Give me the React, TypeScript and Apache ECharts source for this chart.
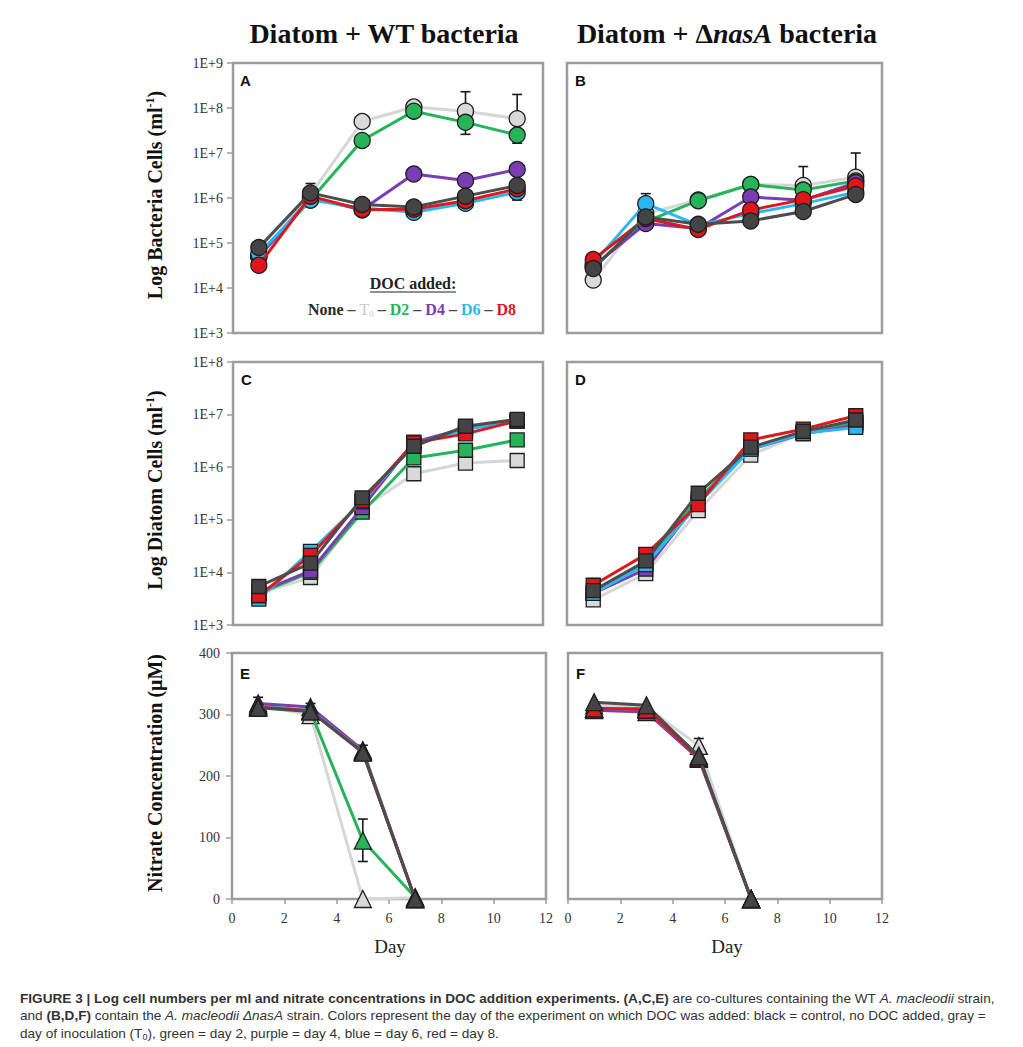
import React, { useEffect, useRef } from "react";
import * as echarts from "echarts";

// ---------- DATA ----------
const daysAll = [1, 3, 5, 7, 9, 11];
const daysNit = [1, 3, 5, 7];
const yTicksNitrate = [0, 100, 200, 300, 400];
const xTicksDay = [0, 2, 4, 6, 8, 10, 12];

// Panel A: WT bacteria cells (ml-1)
const aNone = [7.9e4, 1.3e6, 7.2e5, 6.3e5, 1.1e6, 1.9e6];
const aT0 = [5.0e4, 1.2e6, 5.0e7, 1.05e8, 8.5e7, 5.8e7];
const aD2 = [5.0e4, 9.0e5, 1.9e7, 8.5e7, 4.8e7, 2.5e7];
const aD4 = [5.0e4, 1.0e6, 5.5e5, 3.4e6, 2.45e6, 4.3e6];
const aD6 = [5.8e4, 9.0e5, 6.0e5, 4.8e5, 7.6e5, 1.35e6];
const aD8 = [3.2e4, 1.1e6, 5.5e5, 5.6e5, 8.7e5, 1.6e6];
const aErr = [
  [3, 1.3e6, 2.1e6], [3, 1.0e6, 6.5e5], [9, 8.5e7, 2.3e8], [11, 5.8e7, 2.0e8],
  [9, 4.8e7, 2.6e7], [11, 2.5e7, 1.65e7], [11, 1.9e6, 9.0e5],
];

// Panel B: ΔnasA bacteria cells (ml-1)
const bNone = [2.7e4, 3.8e5, 2.6e5, 3.1e5, 5.0e5, 1.2e6];
const bT0 = [1.5e4, 4.5e5, 9.0e5, 2.0e6, 1.9e6, 2.9e6];
const bD2 = [3.0e4, 3.0e5, 8.7e5, 2.0e6, 1.5e6, 2.4e6];
const bD4 = [3.0e4, 2.7e5, 2.1e5, 1.05e6, 8.9e5, 2.2e6];
const bD6 = [3.5e4, 7.5e5, 2.5e5, 4.5e5, 7.5e5, 1.35e6];
const bD8 = [4.3e4, 3.5e5, 2.0e5, 5.4e5, 9.2e5, 1.85e6];
const bErr = [[1, 1.5e4, 1.1e4], [3, 7.5e5, 1.25e6], [9, 1.9e6, 5.0e6], [11, 2.9e6, 1.0e7]];

// Panel C: diatom cells with WT bacteria
const cNone = [5.4e3, 1.5e4, 2.6e5, 2.5e6, 6.0e6, 8.1e6];
const cT0 = [4.0e3, 8.0e3, 1.6e5, 7.5e5, 1.2e6, 1.34e6];
const cD2 = [4.0e3, 1.0e4, 1.4e5, 1.5e6, 2.1e6, 3.3e6];
const cD4 = [4.2e3, 1.07e4, 1.7e5, 3.0e6, 5.5e6, 7.5e6];
const cD6 = [3.1e3, 2.5e4, 2.2e5, 2.7e6, 5.2e6, 7.5e6];
const cD8 = [3.6e3, 2.1e4, 2.3e5, 2.9e6, 4.3e6, 7.6e6];
const cErr: number[][] = [];

// Panel D: diatom cells with ΔnasA bacteria
const dNone = [4.5e3, 1.65e4, 3.2e5, 2.4e6, 4.8e6, 7.9e6];
const dT0 = [3.0e3, 9.5e3, 1.5e5, 1.7e6, 4.5e6, 7.0e6];
const dD2 = [4.0e3, 1.5e4, 2.5e5, 2.3e6, 4.6e6, 7.0e6];
const dD4 = [4.0e3, 1.15e4, 2.2e5, 2.2e6, 4.3e6, 6.3e6];
const dD6 = [4.0e3, 1.4e4, 2.0e5, 2.2e6, 4.4e6, 5.7e6];
const dD8 = [5.7e3, 2.2e4, 1.95e5, 3.3e6, 5.3e6, 9.5e6];
const dErr = [[1, 4.5e3, 7.6e3]];

// Panel E: nitrate (µM) with WT bacteria
const eNone = [311, 305, 238, 0];
const eT0 = [315, 299, 0, 2];
const eD2 = [315, 305, 95, 3];
const eD4 = [318, 312, 242, 0];
const eD6 = [313, 307, 240, 0];
const eD8 = [312, 306, 239, 0];
const eErr = [[1, 313, 328], [3, 308, 318], [5, 95, 130], [5, 95, 61], [5, 238, 250]];

// Panel F: nitrate (µM) with ΔnasA bacteria
const fNone = [320, 315, 232, 0];
const fT0 = [315, 312, 249, 0];
const fD2 = [309, 310, 233, 0];
const fD4 = [307, 304, 228, 0];
const fD6 = [310, 308, 230, 0];
const fD8 = [310, 308, 230, 0];
const fErr = [[5, 249, 261]];

const treatments = ["T0", "D2", "D4", "D6", "D8", "None"];

// ---------- STYLE ----------
const LINE: Record<string, string> = {
  T0: "#d6d6d6", D2: "#27b35a", D4: "#7b3db3", D6: "#2bb8f2", D8: "#d91a1e", None: "#4d4d4d",
};
const FILL: Record<string, string> = {
  T0: "#d9d9d9", D2: "#27b35a", D4: "#7b3db3", D6: "#2bb8f2", D8: "#e0161a", None: "#444444",
};
const SERIF = "'Liberation Serif', 'Times New Roman', serif";
const SANS = "'Liberation Sans', Arial, sans-serif";
const BORDER = "#9c9c9c";

const grids = [
  { left: 233, top: 63, width: 310, height: 270 },
  { left: 567, top: 63, width: 315, height: 270 },
  { left: 233, top: 362, width: 310, height: 263 },
  { left: 567, top: 362, width: 315, height: 263 },
  { left: 232, top: 653, width: 314, height: 246 },
  { left: 568, top: 653, width: 314, height: 246 },
];

const panels = [
  { days: daysAll, sets: [aT0, aD2, aD4, aD6, aD8, aNone], err: aErr, symbol: "circle", size: 16 },
  { days: daysAll, sets: [bT0, bD2, bD4, bD6, bD8, bNone], err: bErr, symbol: "circle", size: 16 },
  { days: daysAll, sets: [cT0, cD2, cD4, cD6, cD8, cNone], err: cErr, symbol: "rect", size: 14 },
  { days: daysAll, sets: [dT0, dD2, dD4, dD6, dD8, dNone], err: dErr, symbol: "rect", size: 14 },
  { days: daysNit, sets: [eT0, eD2, eD4, eD6, eD8, eNone], err: eErr, symbol: "triangle", size: 17 },
  { days: daysNit, sets: [fT0, fD2, fD4, fD6, fD8, fNone], err: fErr, symbol: "triangle", size: 17 },
];

function logFmt(v: number) {
  return "1E+" + Math.round(Math.log10(v));
}

function buildOption() {
  const xAxis: any[] = [];
  const yAxis: any[] = [];
  const series: any[] = [];

  grids.forEach((g, i) => {
    const bottomRow = i >= 4;
    const leftCol = i % 2 === 0;
    xAxis.push({
      type: "value", gridIndex: i, min: 0, max: 12, interval: 2,
      axisLine: { show: false },
      splitLine: { show: false },
      axisTick: { show: bottomRow, length: 5, lineStyle: { color: BORDER, width: 1.5 } },
      axisLabel: {
        show: bottomRow, margin: 12, fontFamily: SERIF, fontSize: 14, color: "#333",
        formatter: (v: number) => (xTicksDay.includes(v) ? String(v) : ""),
      },
    });
    if (i < 4) {
      yAxis.push({
        type: "log", gridIndex: i, logBase: 10,
        min: 1e3, max: i < 2 ? 1e9 : 1e8,
        axisLine: { show: false },
        splitLine: { show: false },
        axisTick: { show: leftCol, length: 6, lineStyle: { color: BORDER, width: 1.5 } },
        axisLabel: {
          show: leftCol, margin: 10, fontFamily: SERIF, fontSize: 14, color: "#333",
          formatter: logFmt,
        },
      });
    } else {
      yAxis.push({
        type: "value", gridIndex: i, min: 0, max: 400, interval: 100,
        axisLine: { show: false },
        splitLine: { show: false },
        axisTick: { show: leftCol, length: 6, lineStyle: { color: BORDER, width: 1.5 } },
        axisLabel: {
          show: leftCol, margin: 12, fontFamily: SERIF, fontSize: 14, color: "#333",
          formatter: (v: number) => (yTicksNitrate.includes(v) ? String(v) : ""),
        },
      });
    }

    const p = panels[i];
    series.push({
      type: "custom",
      xAxisIndex: i, yAxisIndex: i,
      z: 1,
      silent: true,
      encode: { x: 0, y: [1, 2] },
      data: p.err,
      renderItem: (params: any, api: any) => {
        const x = api.value(0);
        const p0 = api.coord([x, api.value(1)]);
        const p1 = api.coord([x, api.value(2)]);
        return {
          type: "group",
          children: [
            { type: "line", shape: { x1: p0[0], y1: p0[1], x2: p1[0], y2: p1[1] }, style: { stroke: "#1a1a1a", lineWidth: 1.6 } },
            { type: "line", shape: { x1: p1[0] - 5, y1: p1[1], x2: p1[0] + 5, y2: p1[1] }, style: { stroke: "#1a1a1a", lineWidth: 1.6 } },
          ],
        };
      },
    });

    p.sets.forEach((vals, k) => {
      const t = treatments[k];
      series.push({
        type: "line",
        name: t,
        xAxisIndex: i, yAxisIndex: i,
        z: 2 + k,
        data: p.days.map((d, j) => [d, vals[j]]),
        symbol: p.symbol,
        symbolSize: p.size,
        lineStyle: { color: LINE[t], width: 3 },
        itemStyle: { color: FILL[t], borderColor: "#1e1e1e", borderWidth: 1.3 },
        emphasis: { disabled: true },
        silent: true,
      });
    });
  });

  const panelLetters = [
    { t: "A", x: 240, y: 80 }, { t: "B", x: 575, y: 80 },
    { t: "C", x: 241, y: 379 }, { t: "D", x: 575, y: 379 },
    { t: "E", x: 240, y: 673 }, { t: "F", x: 576, y: 673 },
  ];

  const capRich = {
    b: { font: `bold 13.6px ${SANS}`, fill: "#333", lineHeight: 16 },
    n: { font: `13.6px ${SANS}`, fill: "#333", lineHeight: 16 },
    i: { font: `italic 13.6px ${SANS}`, fill: "#333", lineHeight: 16 },
    s: { font: `9px ${SANS}`, fill: "#333", verticalAlign: "bottom", lineHeight: 13 },
  };

  const graphic: any[] = [
    {
      type: "text", x: 384, y: 33,
      style: { text: "Diatom + WT bacteria", font: `bold 28px ${SERIF}`, fill: "#111", textAlign: "center", textVerticalAlign: "middle" },
    },
    {
      type: "text", x: 727, y: 33,
      style: {
        text: "{b|Diatom + Δ}{bi|nasA}{b| bacteria}",
        textAlign: "center", textVerticalAlign: "middle",
        rich: {
          b: { font: `bold 28px ${SERIF}`, fill: "#111" },
          bi: { font: `italic bold 28px ${SERIF}`, fill: "#111" },
        },
      },
    },
    {
      type: "text", x: 155, y: 195, rotation: Math.PI / 2,
      style: {
        text: "{n|Log Bacteria Cells (ml}{s|-1}{n|)}",
        textAlign: "center", textVerticalAlign: "middle",
        rich: {
          n: { font: `bold 20px ${SERIF}`, fill: "#111", lineHeight: 22 },
          s: { font: `bold 12px ${SERIF}`, fill: "#111", verticalAlign: "top", lineHeight: 22 },
        },
      },
    },
    {
      type: "text", x: 155, y: 490, rotation: Math.PI / 2,
      style: {
        text: "{n|Log Diatom Cells (ml}{s|-1}{n|)}",
        textAlign: "center", textVerticalAlign: "middle",
        rich: {
          n: { font: `bold 20px ${SERIF}`, fill: "#111", lineHeight: 22 },
          s: { font: `bold 12px ${SERIF}`, fill: "#111", verticalAlign: "top", lineHeight: 22 },
        },
      },
    },
    {
      type: "text", x: 155, y: 773, rotation: Math.PI / 2,
      style: { text: "Nitrate Concentration (μM)", font: `bold 20px ${SERIF}`, fill: "#111", textAlign: "center", textVerticalAlign: "middle" },
    },
    {
      type: "text", x: 390, y: 946,
      style: { text: "Day", font: `19px ${SERIF}`, fill: "#222", textAlign: "center", textVerticalAlign: "middle" },
    },
    {
      type: "text", x: 727, y: 946,
      style: { text: "Day", font: `19px ${SERIF}`, fill: "#222", textAlign: "center", textVerticalAlign: "middle" },
    },
    // legend in panel A
    {
      type: "text", x: 413, y: 283,
      style: { text: "DOC added:", font: `bold 16px ${SERIF}`, fill: "#222", textAlign: "center", textVerticalAlign: "middle" },
    },
    { type: "line", shape: { x1: 370, y1: 292, x2: 456, y2: 292 }, style: { stroke: "#222", lineWidth: 1.2 } },
    {
      type: "text", x: 412, y: 309,
      style: {
        text: "{n|None}{d| – }{t|T}{s|0}{d| – }{g|D2}{d| – }{p|D4}{d| – }{b|D6}{d| – }{r|D8}",
        textAlign: "center", textVerticalAlign: "middle",
        rich: {
          n: { font: `bold 16px ${SERIF}`, fill: "#2b2b2b", lineHeight: 18 },
          d: { font: `bold 16px ${SERIF}`, fill: "#444", lineHeight: 18 },
          t: { font: `16px ${SERIF}`, fill: "#c8c8c8", lineHeight: 18 },
          s: { font: `9px ${SERIF}`, fill: "#c8c8c8", verticalAlign: "bottom", lineHeight: 14 },
          g: { font: `bold 16px ${SERIF}`, fill: "#27b35a", lineHeight: 18 },
          p: { font: `bold 16px ${SERIF}`, fill: "#7b3db3", lineHeight: 18 },
          b: { font: `bold 16px ${SERIF}`, fill: "#2bb8f2", lineHeight: 18 },
          r: { font: `bold 16px ${SERIF}`, fill: "#e0161a", lineHeight: 18 },
        },
      },
    },
    // caption
    {
      type: "text", x: 20, y: 998,
      style: {
        text: "{b|FIGURE 3 | Log cell numbers per ml and nitrate concentrations in DOC addition experiments. (A,C,E)}{n| are co-cultures containing the WT }{i|A. macleodii}{n| strain,}",
        textAlign: "left", textVerticalAlign: "middle",
        rich: capRich,
      },
    },
    {
      type: "text", x: 20, y: 1015,
      style: {
        text: "{n|and }{b|(B,D,F)}{n| contain the }{i|A. macleodii ΔnasA}{n| strain. Colors represent the day of the experiment on which DOC was added: black = control, no DOC added, gray =}",
        textAlign: "left", textVerticalAlign: "middle",
        rich: capRich,
      },
    },
    {
      type: "text", x: 20, y: 1033,
      style: {
        text: "{n|day of inoculation (T}{s|0}{n|), green = day 2, purple = day 4, blue = day 6, red = day 8.}",
        textAlign: "left", textVerticalAlign: "middle",
        rich: capRich,
      },
    },
  ];

  panelLetters.forEach((l) => {
    graphic.push({
      type: "text", x: l.x, y: l.y,
      style: { text: l.t, font: `bold 15px ${SANS}`, fill: "#111", textAlign: "left", textVerticalAlign: "middle" },
    });
  });

  return {
    animation: false,
    backgroundColor: "#ffffff",
    grid: grids.map((g) => ({
      ...g, show: true, borderColor: BORDER, borderWidth: 2.5, backgroundColor: "transparent", containLabel: false,
    })),
    xAxis,
    yAxis,
    series,
    graphic,
  };
}

export default function App() {
  const ref = useRef<HTMLDivElement>(null);
  useEffect(() => {
    if (!ref.current) return;
    const chart = echarts.init(ref.current, null, { renderer: "svg" });
    chart.setOption(buildOption() as any);
    return () => chart.dispose();
  }, []);
  return (
    <div
      ref={ref}
      style={{ position: "absolute", left: 0, top: 0, width: 1023, height: 1047, background: "#fff" }}
    />
  );
}
